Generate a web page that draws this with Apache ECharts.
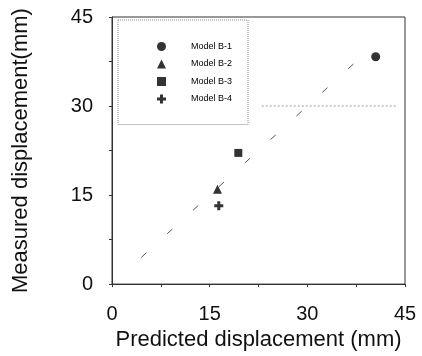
<!DOCTYPE html>
<html>
<head>
<meta charset="utf-8">
<script src="https://cdn.jsdelivr.net/npm/echarts@6/dist/echarts.min.js"></script>
<style>
html,body{margin:0;padding:0;background:#fff;}
#c{width:422px;height:356px;}
</style>
</head>
<body>
<div id="c"></div>
<script>
// Data
const seriesNames = ['Model B-1', 'Model B-2', 'Model B-3', 'Model B-4'];
const predicted = [40.5, 16.2, 19.4, 16.4];
const measured = [38.3, 16.0, 22.1, 13.2];
const diagonalLine = [[4.5, 4.5], [39.7, 39.7]];
const refLine30 = [[23.0, 30], [43.9, 30]];
const tickLabels = [0, 15, 30, 45];

const symbols = ['circle', 'triangle', 'rect', 'path://M3,0H6V3H9V6H6V9H3V6H0V3H3Z'];
const sizes = [9, 9, 8, 9];
const font = 'Liberation Sans, Arial, sans-serif';

const chart = echarts.init(document.getElementById('c'));

const scatterSeries = seriesNames.map((n, i) => ({
  name: n,
  type: 'scatter',
  symbol: symbols[i],
  symbolSize: sizes[i],
  itemStyle: { color: '#000' },
  data: [[predicted[i], measured[i]]],
  z: 5
}));

const axisCommon = {
  min: 0, max: 45, interval: 7.5,
  axisLine: { show: true, lineStyle: { color: '#333', width: 1 } },
  axisTick: { show: true, length: 3, lineStyle: { color: '#333' } },
  splitLine: { show: false },
  axisLabel: {
    fontSize: 20, color: '#111', fontFamily: font,
    formatter: v => (tickLabels.indexOf(v) >= 0 ? String(v) : '')
  },
  nameLocation: 'middle',
  nameTextStyle: { fontSize: 22, color: '#111', fontFamily: font }
};

chart.setOption({
  animation: false,
  grid: { left: 112, right: 17, top: 17, bottom: 68, show: true, borderColor: '#333', borderWidth: 1 },
  xAxis: Object.assign({}, axisCommon, {
    type: 'value',
    name: 'Predicted displacement (mm)',
    nameGap: 44,
    axisLabel: Object.assign({}, axisCommon.axisLabel, { margin: 20 })
  }),
  yAxis: Object.assign({}, axisCommon, {
    type: 'value',
    name: 'Measured displacement(mm)',
    nameGap: 80,
    axisLabel: Object.assign({}, axisCommon.axisLabel, { margin: 19 })
  }),
  legend: {
    data: seriesNames,
    orient: 'vertical',
    left: 118, top: 20,
    width: 130,
    padding: [22, 16, 21, 39],
    itemWidth: 9, itemHeight: 9, itemGap: 8.5,
    borderColor: '#888', borderWidth: 1, borderType: 'dotted',
    textStyle: { fontSize: 9, color: '#000', fontFamily: font, padding: [0, 0, 0, 20] }
  },
  series: scatterSeries.concat([
    {
      name: 'diag', type: 'line', data: diagonalLine, symbol: 'none',
      lineStyle: { color: '#555', width: 1, type: [7, 28] }, z: 2
    },
    {
      name: 'ref30', type: 'line', data: refLine30, symbol: 'none',
      lineStyle: { color: '#999', width: 1, type: [2, 2] }, z: 2
    }
  ])
});
</script>
</body>
</html>
